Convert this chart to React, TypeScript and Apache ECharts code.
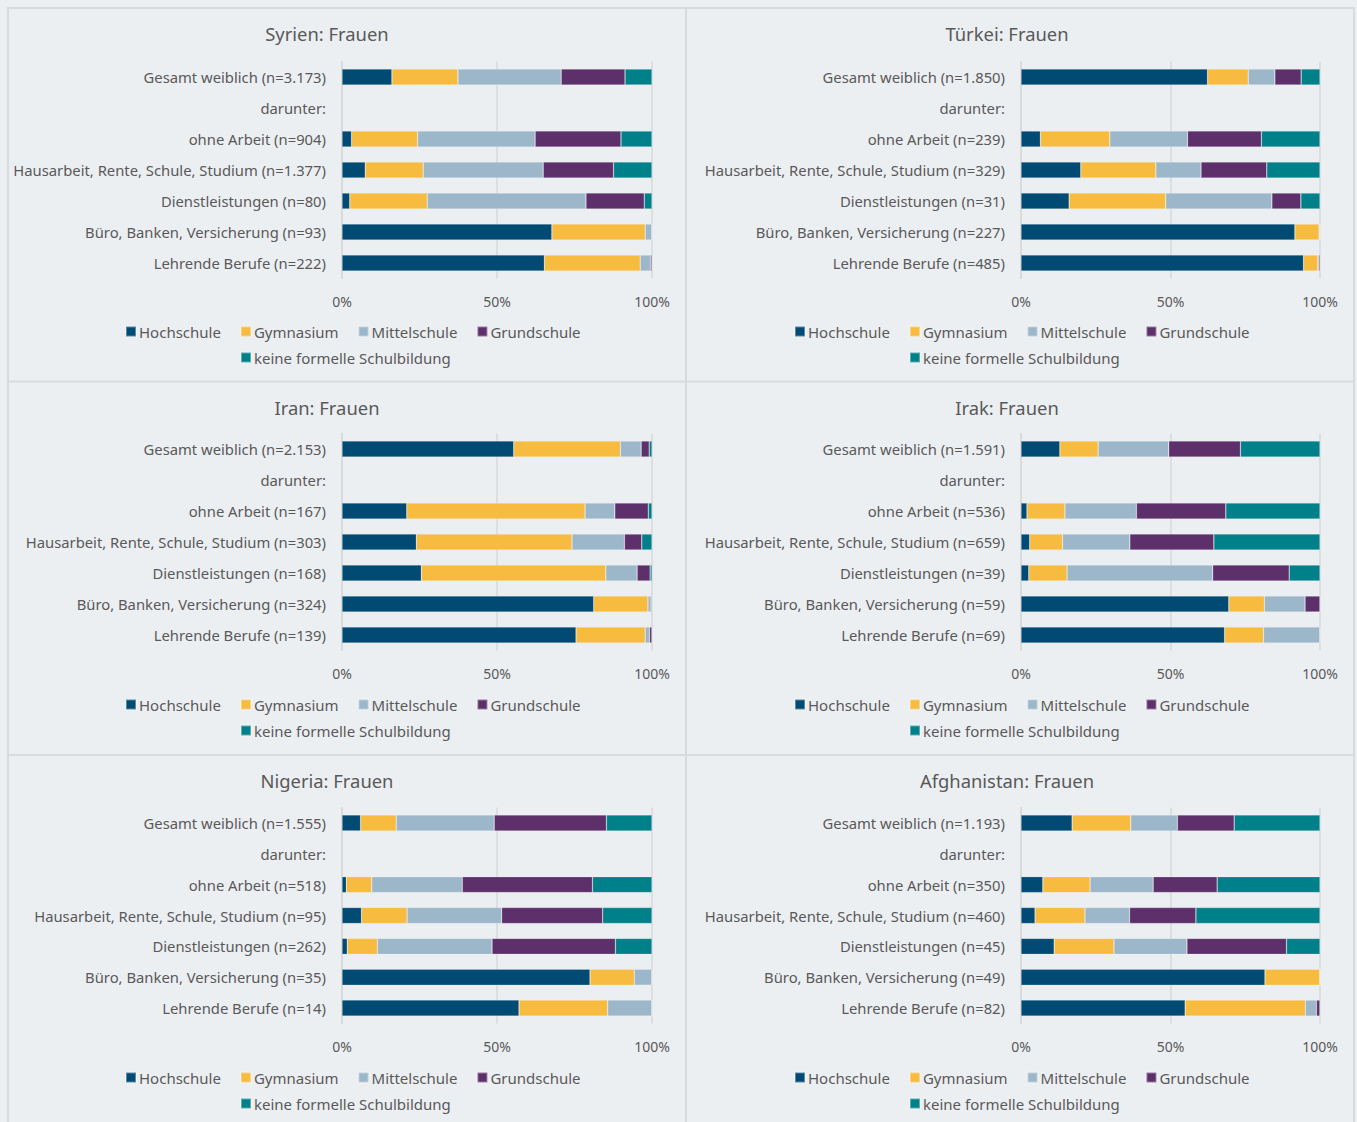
import React, { useEffect, useRef } from "react";
import * as echarts from "echarts";

const levels = ["Hochschule", "Gymnasium", "Mittelschule", "Grundschule", "keine formelle Schulbildung"];
const levelColors = ["#004a74", "#f7bb3f", "#9bb7c9", "#5e306b", "#00818a"];
const tickValues = [0, 50, 100];

const titles = ["Syrien: Frauen", "Türkei: Frauen", "Iran: Frauen", "Irak: Frauen", "Nigeria: Frauen", "Afghanistan: Frauen"];

const syrienCats = ["Gesamt weiblich (n=3.173)", "darunter:", "ohne Arbeit (n=904)", "Hausarbeit, Rente, Schule, Studium (n=1.377)", "Dienstleistungen (n=80)", "Büro, Banken, Versicherung (n=93)", "Lehrende Berufe (n=222)"];
const tuerkeiCats = ["Gesamt weiblich (n=1.850)", "darunter:", "ohne Arbeit (n=239)", "Hausarbeit, Rente, Schule, Studium (n=329)", "Dienstleistungen (n=31)", "Büro, Banken, Versicherung (n=227)", "Lehrende Berufe (n=485)"];
const iranCats = ["Gesamt weiblich (n=2.153)", "darunter:", "ohne Arbeit (n=167)", "Hausarbeit, Rente, Schule, Studium (n=303)", "Dienstleistungen (n=168)", "Büro, Banken, Versicherung (n=324)", "Lehrende Berufe (n=139)"];
const irakCats = ["Gesamt weiblich (n=1.591)", "darunter:", "ohne Arbeit (n=536)", "Hausarbeit, Rente, Schule, Studium (n=659)", "Dienstleistungen (n=39)", "Büro, Banken, Versicherung (n=59)", "Lehrende Berufe (n=69)"];
const nigeriaCats = ["Gesamt weiblich (n=1.555)", "darunter:", "ohne Arbeit (n=518)", "Hausarbeit, Rente, Schule, Studium (n=95)", "Dienstleistungen (n=262)", "Büro, Banken, Versicherung (n=35)", "Lehrende Berufe (n=14)"];
const afghanistanCats = ["Gesamt weiblich (n=1.193)", "darunter:", "ohne Arbeit (n=350)", "Hausarbeit, Rente, Schule, Studium (n=460)", "Dienstleistungen (n=45)", "Büro, Banken, Versicherung (n=49)", "Lehrende Berufe (n=82)"];

// rows: one per category, values per level (Hochschule, Gymnasium, Mittelschule, Grundschule, keine)
const syrienRows = [
  [16.1, 21.3, 33.3, 20.6, 8.7],
  null,
  [3.1, 21.3, 37.9, 27.7, 10.0],
  [7.5, 18.7, 38.7, 22.7, 12.4],
  [2.5, 25.0, 51.2, 18.8, 2.5],
  [67.7, 30.1, 2.2, 0, 0],
  [65.3, 30.9, 3.3, 0.5, 0],
];
const tuerkeiRows = [
  [62.4, 13.6, 8.9, 8.8, 6.3],
  null,
  [6.5, 23.2, 26.0, 24.7, 19.6],
  [20.0, 25.1, 15.1, 22.0, 17.8],
  [16.1, 32.3, 35.5, 9.7, 6.4],
  [91.6, 8.1, 0.3, 0, 0],
  [94.5, 4.8, 0.2, 0.5, 0],
];
const iranRows = [
  [55.4, 34.4, 6.7, 2.6, 0.9],
  null,
  [20.9, 57.5, 9.6, 10.8, 1.2],
  [24.0, 50.2, 16.9, 5.6, 3.3],
  [25.6, 59.5, 10.1, 4.2, 0.6],
  [81.2, 17.5, 1.0, 0.3, 0],
  [75.5, 22.3, 1.4, 0.8, 0],
];
const irakRows = [
  [13.0, 12.8, 23.6, 24.0, 26.6],
  null,
  [2.0, 12.7, 23.9, 29.9, 31.5],
  [2.9, 11.0, 22.5, 28.1, 35.5],
  [2.6, 12.8, 48.7, 25.6, 10.3],
  [69.5, 11.9, 13.6, 5.0, 0],
  [68.1, 13.0, 18.9, 0, 0],
];
const nigeriaRows = [
  [6.0, 11.5, 31.6, 36.2, 14.7],
  null,
  [1.4, 8.2, 29.2, 42.0, 19.2],
  [6.3, 14.7, 30.5, 32.6, 15.9],
  [1.7, 9.7, 37.0, 39.8, 11.8],
  [80.0, 14.3, 5.7, 0, 0],
  [57.1, 28.6, 14.3, 0, 0],
];
const afghanistanRows = [
  [17.1, 19.6, 15.6, 19.0, 28.7],
  null,
  [7.3, 15.8, 21.1, 21.4, 34.4],
  [4.7, 16.7, 14.9, 22.2, 41.5],
  [11.1, 20.0, 24.4, 33.3, 11.2],
  [81.6, 18.4, 0, 0, 0],
  [54.9, 40.2, 3.7, 1.2, 0],
];

const panelCats = [syrienCats, tuerkeiCats, iranCats, irakCats, nigeriaCats, afghanistanCats];
const panelRows = [syrienRows, tuerkeiRows, iranRows, irakRows, nigeriaRows, afghanistanRows];

const FONT = "Noto Sans";
const TEXT = "#595959";
const BORDER = "#d8dbde";
const BG = "#eceff2";

export default function App() {
  const ref = useRef<HTMLDivElement>(null);
  useEffect(() => {
    if (!ref.current) return;
    const chart = echarts.init(ref.current, null, { renderer: "svg", width: 1357, height: 1122 });

    const colX = [
      { gridLeft: 342, gridRight: 652, titleX: 327, legendX: 125, legend2X: 240 },
      { gridLeft: 1021, gridRight: 1320, titleX: 1007, legendX: 794, legend2X: 909 },
    ];
    const rowY = [
      { top: 61.5, bottom: 278.5, titleY: 33, legendY: 333, legend2Y: 359 },
      { top: 433.5, bottom: 650.5, titleY: 407, legendY: 706, legend2Y: 732 },
      { top: 807.5, bottom: 1023.5, titleY: 780, legendY: 1079, legend2Y: 1105 },
    ];

    const grids: any[] = [];
    const xAxes: any[] = [];
    const yAxes: any[] = [];
    const series: any[] = [];
    const legends: any[] = [];
    const graphics: any[] = [];

    for (let p = 0; p < 6; p++) {
      const c = colX[p % 2];
      const r = rowY[Math.floor(p / 2)];
      grids.push({ left: c.gridLeft, width: c.gridRight - c.gridLeft, top: r.top, height: r.bottom - r.top });
      xAxes.push({
        type: "value", gridIndex: p, min: tickValues[0], max: tickValues[2], interval: 50,
        axisLine: { show: false }, axisTick: { show: false },
        axisLabel: { formatter: "{value}%", color: TEXT, fontFamily: FONT, fontSize: 14, margin: 16 },
        splitLine: { show: true, lineStyle: { color: "#d9d9d9", width: 1.5 } },
      });
      yAxes.push({
        type: "category", gridIndex: p, inverse: true, data: panelCats[p],
        axisLine: { show: true, lineStyle: { color: "#d9d9d9", width: 1.5 } },
        axisTick: { show: false },
        axisLabel: { color: TEXT, fontFamily: FONT, fontSize: 14.8, margin: 16 },
      });
      for (let k = 0; k < levels.length; k++) {
        series.push({
          type: "bar", name: levels[k], xAxisIndex: p, yAxisIndex: p, stack: "s" + p,
          barWidth: 16,
          itemStyle: { color: levelColors[k], borderColor: "rgba(255,255,255,0.35)", borderWidth: 0.6 },
          data: panelRows[p].map((row) => (row ? row[k] : null)),
        });
      }
      legends.push({
        data: levels.slice(0, 4), left: c.legendX, top: r.legendY - 9, itemWidth: 10, itemHeight: 10,
        itemGap: 19, icon: "rect", padding: 0,
        textStyle: { color: TEXT, fontFamily: FONT, fontSize: 15, padding: [0, 0, 0, -2] },
      });
      legends.push({
        data: levels.slice(4), left: c.legend2X, top: r.legend2Y - 9, itemWidth: 10, itemHeight: 10,
        icon: "rect", padding: 0,
        textStyle: { color: TEXT, fontFamily: FONT, fontSize: 15, padding: [0, 0, 0, -2] },
      });
      graphics.push({
        type: "text", x: c.titleX, y: r.titleY,
        style: { text: titles[p], fill: TEXT, font: `18.4px "${FONT}"`, textAlign: "center", textVerticalAlign: "middle" },
      });
    }

    // panel frame lines
    graphics.push({ type: "rect", shape: { x: 8, y: 8, width: 1346, height: 1130 }, style: { fill: "none", stroke: BORDER, lineWidth: 2 } });
    graphics.push({ type: "line", shape: { x1: 686, y1: 8, x2: 686, y2: 1122 }, style: { stroke: BORDER, lineWidth: 2 } });
    graphics.push({ type: "line", shape: { x1: 8, y1: 381.5, x2: 1354, y2: 381.5 }, style: { stroke: BORDER, lineWidth: 2 } });
    graphics.push({ type: "line", shape: { x1: 8, y1: 755, x2: 1354, y2: 755 }, style: { stroke: BORDER, lineWidth: 2 } });

    chart.setOption({
      animation: false,
      backgroundColor: BG,
      textStyle: { fontFamily: FONT },
      grid: grids,
      xAxis: xAxes,
      yAxis: yAxes,
      series,
      legend: legends,
      graphic: graphics,
    });
    return () => chart.dispose();
  }, []);
  return <div ref={ref} style={{ position: "fixed", left: 0, top: 0, width: 1357, height: 1122 }} />;
}
